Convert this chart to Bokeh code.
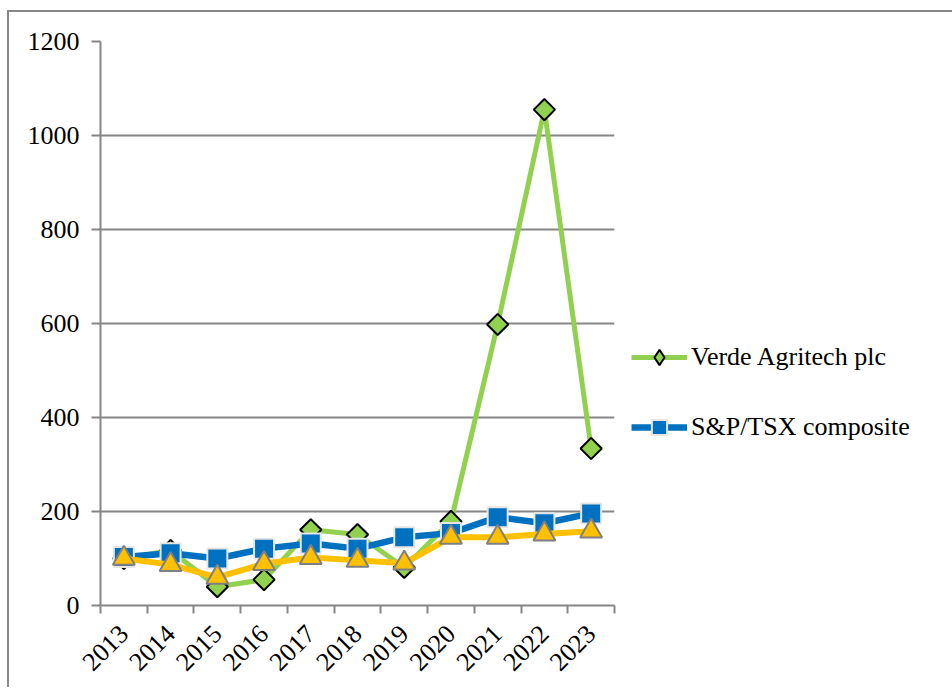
from math import pi
from bokeh.plotting import figure
from bokeh.models import FixedTicker, Range1d, Legend, LegendItem
from bokeh.embed import file_html
from bokeh.resources import INLINE

years = ["2013", "2014", "2015", "2016", "2017", "2018", "2019", "2020", "2021", "2022", "2023"]
verde = [100, 117, 40, 55, 161, 151, 81, 179, 598, 1055, 334]
sptsx = [103, 111, 100, 121, 132, 121, 145, 154, 188, 175, 196]
third = [100, 87, 60, 89, 102, 96, 90, 145, 145, 152, 158]
y_ticks = [0, 200, 400, 600, 800, 1000, 1200]

xs = [i + 0.5 for i in range(len(years))]

FONT = "Liberation Serif"
GRAY = "#868686"

p = figure(width=940, height=675, output_backend="svg", toolbar_location=None,
           x_range=Range1d(0, len(years)), y_range=Range1d(0, 1200),
           min_border_left=91, min_border_top=29, min_border_bottom=82, min_border_right=335,
           frame_width=514, frame_height=564)
p.outline_line_color = None
p.background_fill_color = "white"
p.styles = {"border-left": "2px solid #888888", "border-top": "2px solid #888888",
            "margin-left": "7px", "margin-top": "10px"}

# x axis
p.xaxis.ticker = FixedTicker(ticks=xs, minor_ticks=list(range(len(years) + 1)))
p.xaxis.major_label_overrides = {x: y for x, y in zip(xs, years)}
p.xaxis.major_label_orientation = pi / 4
p.xaxis.major_tick_out = 0
p.xaxis.major_tick_in = 0
p.xaxis.minor_tick_out = 8
p.xaxis.minor_tick_in = 0
p.xaxis.minor_tick_line_color = GRAY
p.xaxis.minor_tick_line_width = 2
p.xaxis.axis_line_color = GRAY
p.xaxis.axis_line_width = 2
p.xaxis.major_label_text_font = FONT
p.xaxis.major_label_text_font_size = "26px"
p.xaxis.major_label_text_color = "black"
p.xaxis.major_label_standoff = 16
p.xgrid.grid_line_color = None

# y axis
p.yaxis.ticker = FixedTicker(ticks=y_ticks)
p.yaxis.major_tick_out = 9
p.yaxis.major_tick_in = 0
p.yaxis.minor_tick_line_color = None
p.yaxis.major_tick_line_color = GRAY
p.yaxis.major_tick_line_width = 2
p.yaxis.axis_line_color = GRAY
p.yaxis.axis_line_width = 2
p.yaxis.major_label_text_font = FONT
p.yaxis.major_label_text_font_size = "26px"
p.yaxis.major_label_text_color = "black"
p.yaxis.major_label_standoff = 12
p.ygrid.grid_line_color = GRAY
p.ygrid.grid_line_width = 2
p.ygrid.ticker = FixedTicker(ticks=y_ticks)

# series
gl = p.line(xs, verde, line_color="#92D050", line_width=5)
gs = p.scatter(xs, verde, marker="square", angle=pi / 4, size=15, fill_color="#92D050",
               line_color="black", line_width=2)
bl = p.line(xs, sptsx, line_color="#0070C0", line_width=6.5)
bs = p.scatter(xs, sptsx, marker="square", size=20, fill_color="#0070C0",
               line_color="#E6E6E6", line_width=2)
yl = p.line(xs, third, line_color="#FFC000", line_width=6)
ys = p.scatter(xs, third, marker="triangle", size=22, fill_color="#FFC000",
               line_color="#808080", line_width=2)

# legend-only glyph for the diamond, placed outside the visible range
gdl = p.scatter([-100], [-10000], marker="diamond", size=24, fill_color="#92D050",
                line_color="black", line_width=2)

legend = Legend(items=[LegendItem(label="Verde Agritech plc", renderers=[gl, gdl]),
                       LegendItem(label="S&P/TSX composite", renderers=[bl, bs])],
                location=(17, 159))
legend.label_text_font = FONT
legend.label_text_font_size = "26px"
legend.label_text_color = "black"
legend.glyph_width = 56
legend.glyph_height = 38
legend.spacing = 32
legend.padding = 0
legend.margin = 0
legend.label_standoff = 4
legend.border_line_color = None
legend.background_fill_alpha = 0
p.add_layout(legend, "right")

open("out.html", "w").write(file_html(p, INLINE))
